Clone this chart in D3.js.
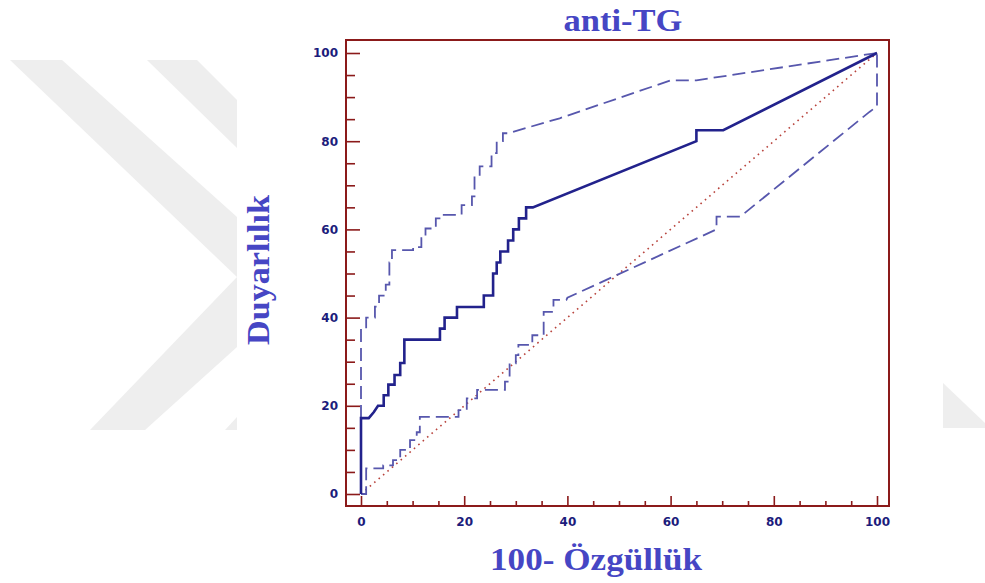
<!DOCTYPE html>
<html>
<head>
<meta charset="utf-8">
<script src="https://cdn.jsdelivr.net/npm/d3@7"></script>
<style>
  body { margin: 0; background: #fff; }
</style>
</head>
<body>
<div id="roc"></div>
<script>
// ROC curve values (x = 100 - specificity, y = sensitivity)
const rocCurve = [[0,0],[0,17.2],[1.5,17.2],[2.5,18.6],[3.3,20],[4.4,20],[4.4,22.4],[5.3,22.4],[5.3,24.8],
  [6.5,24.8],[6.5,27],[7.6,27],[7.6,29.7],[8.4,29.7],[8.4,35],[15.3,35],[15.3,37.5],[16.2,37.5],[16.2,40],
  [18.6,40],[18.6,42.4],[23.8,42.4],[23.8,45],[25.6,45],[25.6,50],[26.3,50],[26.3,52.5],[27,52.5],[27,55],
  [28.5,55],[28.5,57.5],[29.5,57.5],[29.5,60],[30.6,60],[30.6,62.5],[32,62.5],[32,65],[33.3,65],[65,80],
  [65,82.5],[70.2,82.5],[100,100]];

const upperCI = [[0,0],[0,37.5],[1,37.5],[1,40],[2.7,40],[2.7,42.5],[3.5,42.5],[3.5,45],[4.8,45],[4.8,47.5],
  [5.5,47.5],[5.5,52.5],[6,52.5],[6,55.3],[10.1,55.3],[10.1,56],[11.7,56],[11.7,58],[12.5,58],[12.5,60.2],
  [14.5,60.2],[14.5,62.5],[15.6,62.5],[15.6,63.3],[19.5,63.3],[19.5,65.5],[21.5,65.5],[21.5,67.5],[22,67.5],
  [22,72],[23,72],[23,74.3],[25.3,74.3],[25.3,77.3],[26.3,77.3],[26.3,80],[27.5,80],[27.5,81.8],[28.5,81.8],
  [38.5,85.2],[60,93.8],[65,93.8],[100,100]];

const lowerCI = [[0,0],[1,0],[1,5.8],[4.3,5.8],[4.3,6.5],[6.2,6.5],[6.2,7.7],[7.6,7.7],[7.6,10],[9.5,10],
  [9.5,12.2],[10.8,12.2],[10.8,14],[11.4,14],[11.4,17.5],[18.9,17.5],[18.9,19],[20.5,19],[20.5,21.7],
  [22.5,21.7],[22.5,23.6],[27.9,23.6],[27.9,25.5],[28.8,25.5],[28.8,29.6],[30,29.6],[30,31.5],[30.5,31.5],
  [30.5,33.8],[33.2,33.8],[33.2,36],[35.4,36],[35.4,41.3],[37.3,41.3],[37.3,44],[39.8,44],[40,44.5],
  [68.9,60],[68.9,62.9],[73.5,62.9],[98.6,86.7],[100,87.9],[100,100]];

const diagonal = [[0,0],[100,100]];

const tickValues = d3.range(0, 101, 5);
const labelTicks = [0, 20, 40, 60, 80, 100];

const titleText = "anti-TG";
const xTitle = "100- Özgüllük";
const yTitle = "Duyarlılık";

const width = 985, height = 583;

let svg = d3.select("#roc")
  .append("svg")
    .attr("width", width)
    .attr("height", height);

// background watermark (light grey chevrons)
const wm = svg.append("g").attr("fill", "#eeeeee");
wm.append("polygon").attr("points", "10,60 62,60 237,217 237,347 145,430 90,430 237,277");
wm.append("polygon").attr("points", "147,60 197,60 237,100 237,148");
wm.append("polygon").attr("points", "225,430 237,430 237,417");
wm.append("polygon").attr("points", "943,383 985,423 985,428 943,428");

// scales
let x = d3.scaleLinear().domain([0, 100]).range([361, 877]);
let y = d3.scaleLinear().domain([0, 100]).range([494, 53]);

const frameColor = "#8b1a1a";
const labelColor = "#1c1c7c";

// x axis ticks (pointing inward)
let xAxis = svg.append("g")
  .attr("transform", "translate(0,506)")
  .call(d3.axisBottom(x).tickValues(tickValues).tickSize(-5).tickPadding(11)
    .tickFormat(d => labelTicks.includes(d) ? d : ""));

// y axis ticks
let yAxis = svg.append("g")
  .attr("transform", "translate(346,0)")
  .call(d3.axisLeft(y).tickValues(tickValues).tickSize(-9).tickPadding(8)
    .tickFormat(d => labelTicks.includes(d) ? d : ""));

[xAxis, yAxis].forEach(a => {
  a.select(".domain").remove();
  a.selectAll(".tick line").attr("stroke", frameColor).attr("stroke-width", 1.6);
  a.selectAll(".tick text")
    .attr("fill", labelColor)
    .style("font-family", "'DejaVu Sans', Arial, sans-serif")
    .style("font-weight", "bold")
    .style("font-size", "12px");
});
xAxis.selectAll(".tick line").filter(d => labelTicks.includes(d)).attr("y2", -10);
yAxis.selectAll(".tick line").filter(d => labelTicks.includes(d)).attr("x2", 14);

// frame
svg.append("rect")
  .attr("x", 346).attr("y", 40)
  .attr("width", 543).attr("height", 466)
  .attr("fill", "none")
  .attr("stroke", frameColor)
  .attr("stroke-width", 2);

let line = d3.line().x(d => x(d[0])).y(d => y(d[1]));

// reference diagonal
svg.append("path")
  .attr("d", line(diagonal))
  .attr("fill", "none")
  .attr("stroke", "#b8433c")
  .attr("stroke-width", 1.6)
  .attr("stroke-dasharray", "1.6,4.2");

// confidence bounds
[upperCI, lowerCI].forEach(ci => {
  svg.append("path")
    .attr("d", line(ci))
    .attr("fill", "none")
    .attr("stroke", "#5757ad")
    .attr("stroke-width", 1.8)
    .attr("stroke-dasharray", "13,6");
});

// ROC curve
svg.append("path")
  .attr("d", line(rocCurve))
  .attr("fill", "none")
  .attr("stroke", "#22228c")
  .attr("stroke-width", 2.6)
  .attr("stroke-linejoin", "miter");

// titles
const titleColor = "#4646c4";
svg.append("text")
  .attr("x", 623).attr("y", 31)
  .attr("text-anchor", "middle")
  .attr("textLength", 119).attr("lengthAdjust", "spacingAndGlyphs")
  .style("font-family", "'Liberation Serif', 'Times New Roman', serif")
  .style("font-weight", "bold").style("font-size", "31px")
  .attr("fill", titleColor)
  .text(titleText);

svg.append("text")
  .attr("x", 596).attr("y", 570)
  .attr("text-anchor", "middle")
  .attr("textLength", 212).attr("lengthAdjust", "spacingAndGlyphs")
  .style("font-family", "'Liberation Serif', 'Times New Roman', serif")
  .style("font-weight", "bold").style("font-size", "32px")
  .attr("fill", titleColor)
  .text(xTitle);

svg.append("text")
  .attr("transform", "translate(269,270) rotate(-90)")
  .attr("text-anchor", "middle")
  .attr("textLength", 150).attr("lengthAdjust", "spacingAndGlyphs")
  .style("font-family", "'Liberation Serif', 'Times New Roman', serif")
  .style("font-weight", "bold").style("font-size", "32px")
  .attr("fill", titleColor)
  .text(yTitle);
</script>
</body>
</html>
